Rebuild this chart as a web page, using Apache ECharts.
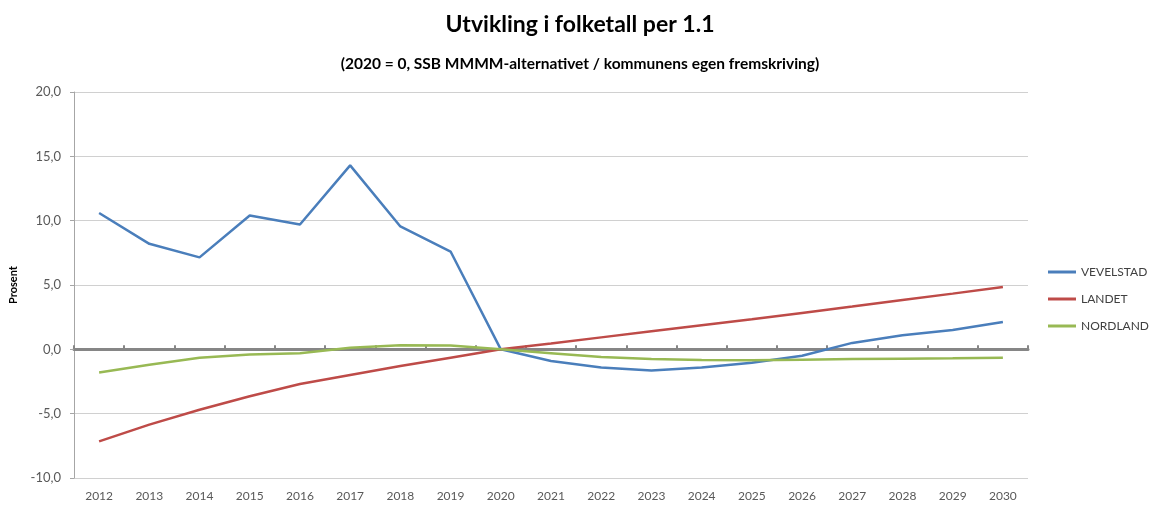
<!DOCTYPE html>
<html>
<head>
<meta charset="utf-8">
<script src="https://cdn.jsdelivr.net/npm/echarts@6/dist/echarts.min.js"></script>
<style>html,body{margin:0;padding:0;background:#fff}#c{width:1160px;height:507px}</style>
</head>
<body>
<div id="c"></div>
<script>
const years = ['2012','2013','2014','2015','2016','2017','2018','2019','2020','2021','2022','2023','2024','2025','2026','2027','2028','2029','2030'];
const vevelstad = [10.6, 8.2, 7.15, 10.4, 9.7, 14.3, 9.55, 7.6, 0, -0.9, -1.42, -1.65, -1.42, -1.05, -0.5, 0.5, 1.1, 1.5, 2.12];
const landet = [-7.15, -5.85, -4.7, -3.65, -2.7, -2.0, -1.3, -0.65, 0, 0.45, 0.93, 1.4, 1.87, 2.33, 2.83, 3.33, 3.84, 4.33, 4.84];
const nordland = [-1.8, -1.2, -0.65, -0.4, -0.3, 0.12, 0.32, 0.3, 0, -0.3, -0.6, -0.75, -0.82, -0.84, -0.8, -0.76, -0.73, -0.7, -0.66];
const yTicks = {min: -10, max: 20, interval: 5};

const chart = echarts.init(document.getElementById('c'));
const font = 'Lato, "Open Sans", sans-serif';
const mk = (name, data, color) => ({
  name, type: 'line', data, symbol: 'none', smooth: false,
  lineStyle: {color, width: 2.5}, itemStyle: {color}
});
chart.setOption({
  animation: false,
  backgroundColor: '#fff',
  title: [
    {text: 'Utvikling i folketall per 1.1', left: 'center', top: 8,
     textStyle: {fontFamily: font, fontSize: 23, fontWeight: 'bold', color: '#000'}},
    {text: '(2020 = 0, SSB MMMM-alternativet / kommunens egen fremskriving)', left: 'center', top: 51,
     textStyle: {fontFamily: font, fontSize: 15.5, fontWeight: 'bold', color: '#000'}}
  ],
  legend: {
    orient: 'vertical', left: 1043, top: 260, itemWidth: 28, itemHeight: 3, itemGap: 13,
    icon: 'rect',
    textStyle: {fontFamily: font, fontSize: 12, color: '#404040', lineHeight: 14},
    data: ['VEVELSTAD', 'LANDET', 'NORDLAND']
  },
  grid: {left: 70, right: 132, top: 92, bottom: 29, containLabel: false},
  xAxis: [
    {type: 'category', data: years, boundaryGap: true, position: 'bottom',
     axisLine: {show: false, onZero: false}, axisTick: {show: false},
     axisLabel: {fontFamily: font, fontSize: 12, color: '#595959', margin: 12}},
    {type: 'category', data: years, boundaryGap: true,
     axisLine: {show: true, onZero: true, lineStyle: {color: '#868686', width: 3}},
     axisTick: {show: true, length: 4, lineStyle: {color: '#868686', width: 2}},
     axisLabel: {show: false}}
  ],
  yAxis: {
    type: 'value', min: yTicks.min, max: yTicks.max, interval: yTicks.interval,
    name: 'Prosent', nameLocation: 'middle', nameGap: 55, nameRotate: 90,
    nameTextStyle: {fontFamily: font, fontSize: 11, fontWeight: 'bold', color: '#000'},
    axisLine: {show: true, lineStyle: {color: '#a6a6a6', width: 1}},
    axisTick: {show: true, length: 4, lineStyle: {color: '#a6a6a6'}},
    axisLabel: {fontFamily: font, fontSize: 13, color: '#595959', margin: 13,
      formatter: v => v.toFixed(1).replace('.', ',')},
    splitLine: {lineStyle: {color: '#d0d0d0', width: 1}}
  },
  series: [
    mk('VEVELSTAD', vevelstad, '#4A7EBB'),
    mk('LANDET', landet, '#BE4B48'),
    mk('NORDLAND', nordland, '#98B954')
  ]
});
</script>
</body>
</html>
